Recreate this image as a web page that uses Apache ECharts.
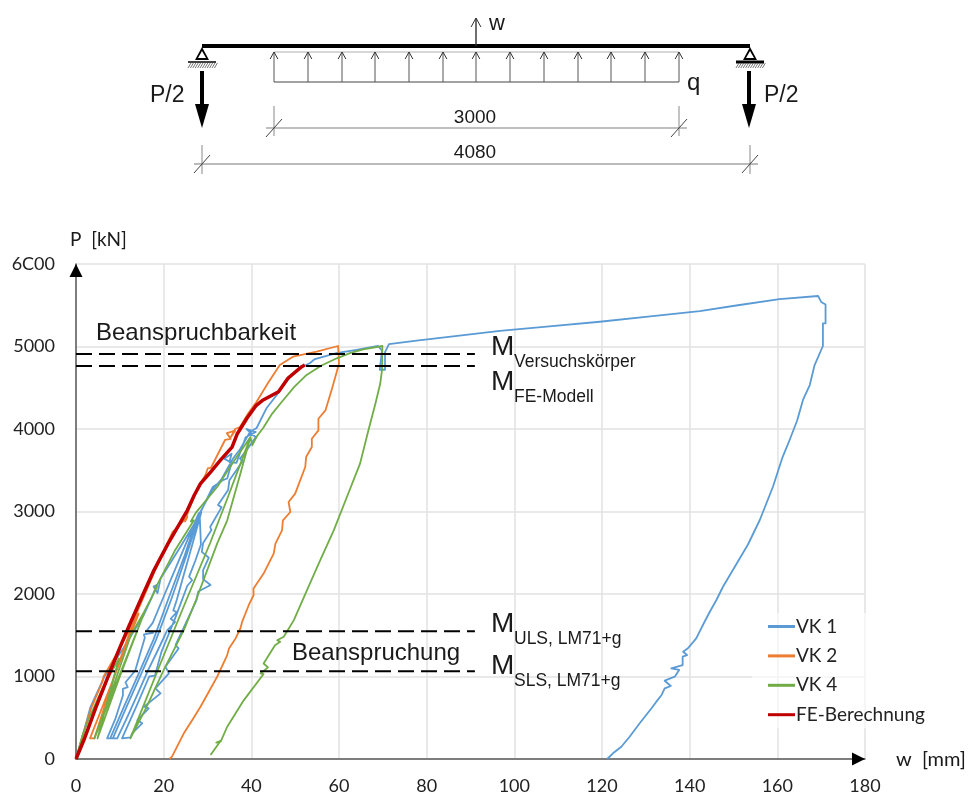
<!DOCTYPE html>
<html><head><meta charset="utf-8">
<style>html,body{margin:0;padding:0;background:#fff}#c{width:971px;height:799px}</style>
<script src="https://cdn.jsdelivr.net/npm/echarts@6/dist/echarts.min.js"></script>
</head><body><div id="c"></div>
<script>
const xTickLabels=['0','20','40','60','80','100','120','140','160','180'];
const yTickLabels=['0','1000','2000','3000','4000','5000','6C00'];
const seriesNames=['VK 1','VK 2','VK 4','FE-Berechnung'];
const vk1=[[0,0],[1.5,280],[3.3,630],[6.5,1000],[11.5,1400],[15.5,1750],[17.3,1960],[18.4,2110],[17.7,2090],[18.6,2010],[19.3,2187],[23.8,2570],[28.6,2990],
[25.8,2460],[24.2,2160],[23,1930],[22.2,1800],[23,1780],[21.6,1700],[22.6,1660],[20.8,1560],[18.5,1300],[16.4,1070],[14,780],[11.8,520],[9.4,250],[7.1,250],
[9,490],[10.7,770],[10.7,850],[11.8,870],[11.3,930],[13.5,1070],[15.7,1470],[15.5,1510],[17.6,1530],[16.2,1560],[17.5,1650],[19.7,1930],[23.5,2410],[28,2980],
[24.8,2470],[21,1930],[17.7,1450],[14.6,1070],[11,640],[7.8,250],[8.4,250],[11.6,640],[15.2,1070],[18.3,1450],[21.7,1930],[25.2,2470],[28.4,2990],
[31.2,3297],[33.5,3380],[34.5,3400],[35.5,3590],[33.8,3640],[35.5,3700],[35,3600],[36.6,3590],[38.7,3900],[41,3965],[38.9,4000],[41,3900],
[39,3750],[37.4,3640],[38,3610],[36.6,3500],[35,3380],[34.7,3260],[32.4,3078],[33.2,3050],[30.6,2812],[30.9,2775],[29,2618],[28.7,2510],[30.3,2440],[29,2290],[29,2180],[30.7,2110],[27.9,2030],[27.5,1927],[25,1640],[22.7,1380],[23.4,1340],[20.4,1118],[21.2,1037],[18.1,856],[19.3,795],[15.5,634],[16.6,613],[14,472],[15.1,432],[12.8,311],[12.5,262],[10.5,250],
[13.8,640],[16.7,1000],[18,1010],[19.5,1300],[22.5,1690],[25.4,2100],[26.5,2167],[25.8,2210],[27.2,2400],[28.5,2600],[28.2,2980],[31,3250],[33.3,3400],[35.8,3640],[37.5,3760],[39.7,3965],
[41.2,4012],[43.5,4255],[45.8,4412],[48,4580],[51.1,4739],[53.4,4800],[54.5,4848],[59.4,4921],[64,4960],[68.9,5006],[69.8,4952],[69.3,4718],[70.5,4718],[70.5,4931],[71.4,5030],
[77.7,5070],[87,5130],[96.7,5190],[108,5245],[119.5,5300],[131,5365],[142.3,5430],[151,5500],[160.5,5575],[169.3,5612],[170,5540],[171,5510],[171,5280],[170.4,5280],[170.4,5006],[168.5,4775],[167.4,4533],[165.9,4360],[164.5,4100],[162.8,3867],[161.2,3660],[159,3300],[156,2897],[153.3,2600],[150.3,2331],[147.6,2088],[146.1,1927],[144.6,1785],[143.4,1664],[141.5,1463],[139.6,1342],[138.5,1300],[139.4,1260],[138.4,1240],[138.4,1139],[135.8,1099],[137.6,1079],[136.6,998],[134.3,949],[135.7,885],[134.3,857],[133.6,776],[132.4,695],[131.3,615],[128.6,433],[126.3,270],[124.4,149],[122.5,69],[121.2,0]];
const vk2=[[0,0],[1.5,280],[3.5,620],[5.9,921],[6.3,1000],[9,1250],[12,1550],[14.3,1763],[13.5,1650],[8,900],[3.2,250],[4.2,250],[9,1050],[13.8,1763],[18,2280],[22,2750],[25.4,2934],[24.9,2880],[25.6,3000],[27.9,3300],[29.5,3440],[30.1,3527],[30.8,3530],[34,3867],[35.3,3880],[34.4,3950],[36.3,3980],[35.3,3900],[36.3,4000],[37.4,4024],[39.3,4190],[41.2,4330],[43.8,4557],[46.5,4775],[49.5,4876],[54.9,4937],[59.8,5006],
[60,4790],[58.4,4487],[56.9,4225],[55.3,4124],[55.3,3983],[53.8,3882],[53.8,3781],[52.5,3660],[52.3,3539],[50,3216],[48.5,3115],[48.9,2994],[47.2,2893],[47,2772],[45.5,2611],[45.1,2490],[42.8,2248],[40.5,2066],[40.5,1985],[39.4,1864],[37.9,1663],[37.5,1582],[36.4,1461],[34.9,1340],[34.5,1259],[32.2,997],[30.3,815],[28.4,634],[26.5,470],[24.6,311],[21.9,28],[21.3,0]];
const vk4=[[0,0],[1.5,290],[3,500],[6,850],[9.8,1219],[4.9,250],[10,1000],[15.5,1763],[4.2,250],[8,800],[12.5,1500],[15.5,1780],[18.5,2086],[18,2060],[18.9,2150],[22.5,2520],[26.9,2893],[26.2,2880],[27.4,2990],[32.2,3297],[36,3610],[39.8,3902],
[37.5,3458],[34.5,2893],[32.2,2611],[27.4,1930],[24.6,1562],[20,1077],[16,620],[12.4,250],[15.5,660],[18.6,1070],[25.2,1930],[30.6,2618],[34.4,3140],[39.8,3902],
[40.2,3801],[41.3,3915],[42.7,4012],[44.8,4190],[47.3,4352],[49.8,4510],[52.6,4655],[56,4770],[59.5,4857],[62.5,4920],[65.5,4966],[69.9,5006],[70.2,5000],[69.8,4710],[69.4,4548],[68.3,4306],[66.7,3983],[64.8,3580],[61.8,3176],[58.8,2772],[55.7,2409],[52.7,2046],[49.7,1683],[47.4,1481],[45.9,1440],[46.6,1420],[45.4,1380],[42.8,1158],[43.8,1110],[42.1,1037],[42.8,1030],[38.3,714],[34.5,391],[33,210],[32,200],[33,220],[30.7,48]];
const feModel=[[0,0],[1.8,230],[4.5,620],[7.9,1077],[10,1350],[12,1600],[15,1960],[17.8,2290],[21,2610],[25.4,3015],[27,3200],[28.4,3337],[30.7,3478],[33,3625],[35.6,3781],[36.8,3943],[39,4130],[41,4280],[42.7,4352],[46.2,4452],[48.4,4618],[51.5,4755],[52.2,4775]];
const limitEnd=91;
const limitValues=[4910,4765,1550,1065];

const chart=echarts.init(document.getElementById('c'),null,{renderer:'canvas'});
const sans='"Liberation Sans",Arial,sans-serif', cal='Lato,"Open Sans",sans-serif';
const ink='#1a1a1a';
const g=[];
function line(x1,y1,x2,y2,w,c){g.push({type:'line',shape:{x1,y1,x2,y2},style:{stroke:c||'#333',lineWidth:w||1},silent:true,z:20});}
function poly(points,c){g.push({type:'polygon',shape:{points},style:{fill:c||'#000'},silent:true,z:21});}
function txt(text,x,y,size,font,align){g.push({type:'text',x,y,style:{text,font:size+'px '+font,fill:ink,align:align||'left',verticalAlign:'middle'},silent:true,z:22});}
function openArrow(x,y,s){line(x,y,x-s*0.55,y+s,1,'#333');line(x,y,x+s*0.55,y+s,1,'#333');}
function support(x,y,heavy){
 poly([[x,y],[x-7,y+13],[x+7,y+13],[x,y]],'#000');
 poly([[x,y+4],[x-4,y+11],[x+4,y+11]],'#fff');
 line(x-14,y+15,x+14,y+15,heavy?3:1.5,'#000');
 for(let i=0;i<12;i++){line(x-14+i*2.4,y+21,x-11+i*2.4,y+16,0.8,'#555');}
}
function dim(x,y1,y2,yc){line(x,y1,x,y2,1,'#888');line(x-8,yc+9,x+8,yc-9,1,'#444');}
// Beam schematic
line(202,46,750,46,4,'#000');
line(476,46,476,18,1.4,'#333');openArrow(476,18,9);
txt('w',489,24,22,sans);
support(202,47,false);support(750,47,true);
line(274,82,679,82,1,'#444');line(274,52,679,52,0.8,'#999');
[274,308,342,375,409,443,476,510,544,578,611,645,679].forEach(x=>{line(x,52,x,82,1,'#555');openArrow(x,52,7);});
txt('q',687,83,24,sans);
line(202,71,202,106,4,'#000');poly([[195,104],[209,104],[202,128]]);
line(749,71,749,106,4,'#000');poly([[742,104],[756,104],[749,128]]);
txt('P/2',150,96,23,sans);txt('P/2',764,96,23,sans);
line(266,128,687,128,1.5,'#aaa');dim(274,106,136,128);dim(679,106,136,128);
txt('3000',475,118,19,sans,'center');
line(194,164,758,164,1,'#777');dim(202,145,174,164);dim(750,145,174,164);
txt('4080',475,153,19,sans,'center');
// Axis arrows and titles
poly([[76,264],[69.5,277],[82.5,277]]);
poly([[865,759],[852,752.5],[852,765.5]]);
txt('P  [kN]',70,240,19,cal);
txt('w  [mm]',896,760,20,cal);
// Annotations
txt('Beanspruchbarkeit',96,333,24,sans);
txt('Beanspruchung',292,653,24,sans);
[['Versuchskörper',347,362],['FE-Modell',382,397],['ULS, LM71+g',624,639],['SLS, LM71+g',666,681]].forEach(a=>{
 txt('M',491,a[1],28,sans);txt(a[0],514,a[2],17.5,sans);
});

const cols=['#5B9BD5','#ED7D31','#70AD47','#C00000'];
const data=[vk1,vk2,vk4,feModel];
const series=data.map((d,i)=>({name:seriesNames[i],type:'line',data:d,showSymbol:false,symbol:'none',smooth:false,z:i===3?6:3+i*0.1,
 lineStyle:{color:cols[i],width:i===3?3.5:1.8,join:'round'},itemStyle:{color:cols[i]},animation:false}));
limitValues.forEach((v,i)=>series.push({name:'limit'+i,type:'line',data:[[0,v],[limitEnd,v]],showSymbol:false,symbol:'none',z:8,
 lineStyle:{color:'#000',width:2,type:[16,7]},animation:false}));

chart.setOption({
 animation:false,backgroundColor:'#fff',
 grid:{left:76,right:106,top:264,bottom:40,containLabel:false},
 xAxis:{type:'value',min:0,max:180,interval:20,
  axisLine:{onZero:false,lineStyle:{color:'#595959',width:1.5}},axisTick:{show:false},
  splitLine:{show:true,lineStyle:{color:'#e2e2e2',width:1.5}},
  axisLabel:{color:'#222',fontFamily:cal,fontSize:18,margin:18,showMinLabel:true,showMaxLabel:true,formatter:(v)=>xTickLabels[v/20]}},
 yAxis:{type:'value',min:0,max:6000,interval:1000,
  axisLine:{show:true,onZero:false,lineStyle:{color:'#595959',width:1.5}},axisTick:{show:false},
  splitLine:{show:true,lineStyle:{color:'#e2e2e2',width:1.5}},
  axisLabel:{color:'#222',fontFamily:cal,fontSize:18,margin:21,showMinLabel:true,showMaxLabel:true,formatter:(v)=>yTickLabels[v/1000]}},
 legend:{data:seriesNames,orient:'vertical',left:752,top:613,itemWidth:27,itemHeight:3,itemGap:10.4,padding:[4,8,4,16],
  icon:'rect',backgroundColor:'rgba(255,255,255,0.6)',textStyle:{fontFamily:cal,fontSize:19,color:'#222',padding:[0,0,0,-4]}},
 series,
 graphic:g
});
</script></body></html>
